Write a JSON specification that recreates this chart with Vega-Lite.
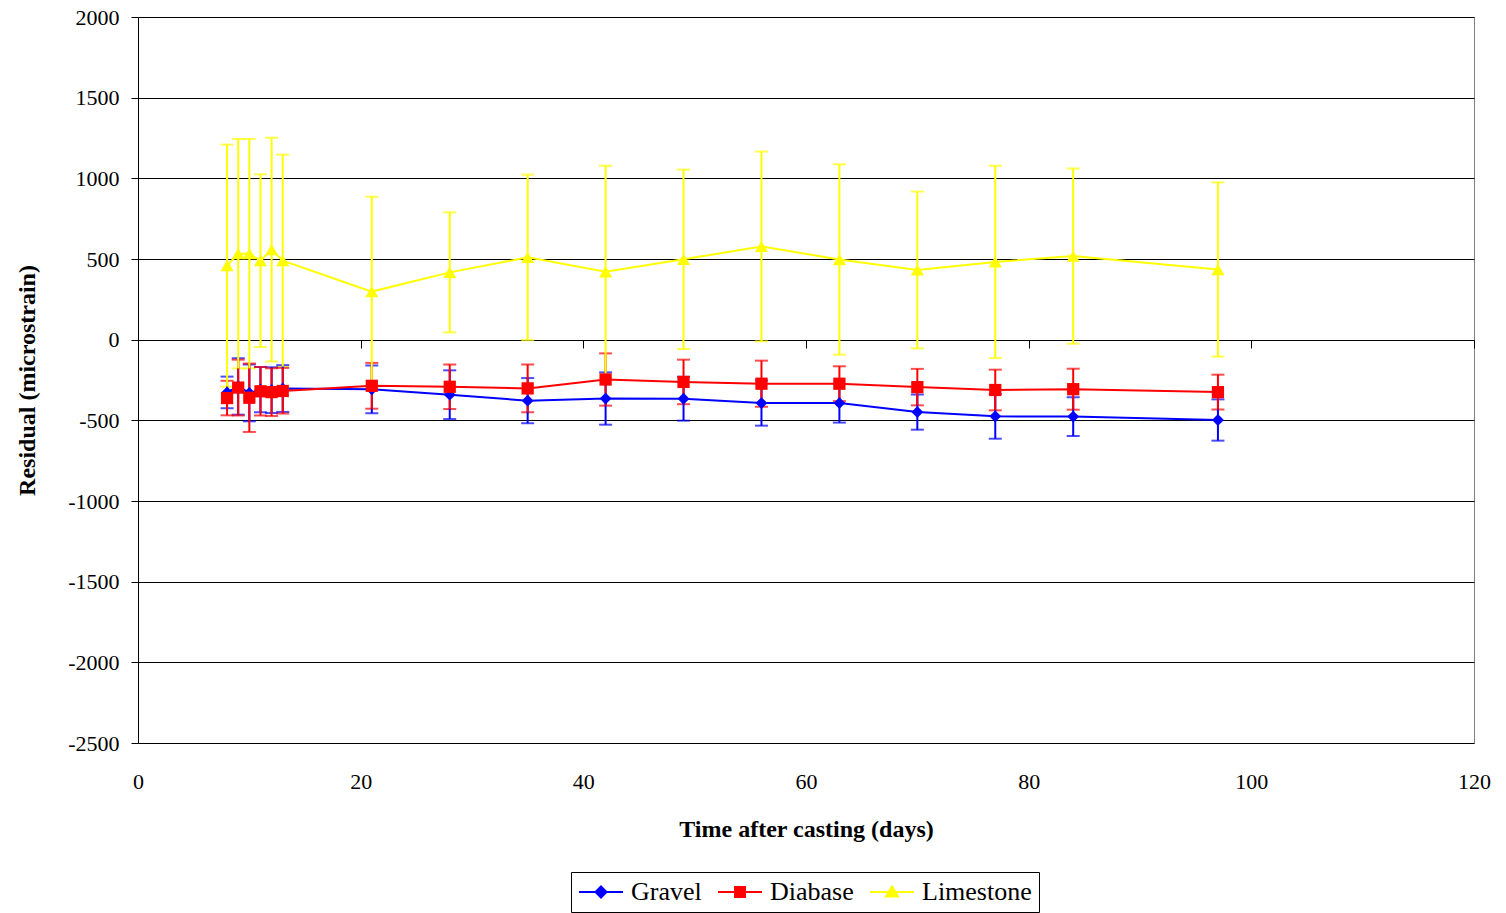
{
  "$schema": "https://vega.github.io/schema/vega-lite/v6.json",
  "width": 1336,
  "height": 726,
  "autosize": {"type": "none"},
  "padding": {"left": 138, "top": 17, "right": 32, "bottom": 170},
  "background": "white",
  "config": {
    "font": "Liberation Serif",
    "view": {"stroke": "#808080", "strokeWidth": 1},
    "axisY": {
      "grid": true, "gridColor": "black", "gridOpacity": 1, "gridWidth": 1,
      "domain": true, "domainColor": "black", "domainWidth": 1,
      "ticks": true, "tickColor": "black", "tickSize": 7,
      "labelFont": "Liberation Serif", "labelFontSize": 22, "labelColor": "black", "labelPadding": 12,
      "titleFont": "Liberation Serif", "titleFontSize": 24, "titleFontWeight": "bold", "titleColor": "black", "titlePadding": 28
    },
    "legend": {
      "orient": "none", "legendX": 433, "legendY": 855, "direction": "horizontal", "title": null,
      "symbolSize": 400, "symbolOffset": 10, "labelOffset": 17, "columnPadding": 12, "padding": 7,
      "labelFont": "Liberation Serif", "labelFontSize": 26, "labelColor": "black",
      "strokeColor": "black", "fillColor": "white", "symbolLimit": 0,
      "symbolOpacity": 1, "symbolStrokeWidth": 2
    }
  },
  "data": {
    "values": [
      {"series": "Gravel", "day": 8, "value": -327, "lo": -425, "hi": -229},
      {"series": "Gravel", "day": 9, "value": -290, "lo": -465, "hi": -115},
      {"series": "Gravel", "day": 10, "value": -330, "lo": -506, "hi": -154},
      {"series": "Gravel", "day": 11, "value": -310, "lo": -450, "hi": -170},
      {"series": "Gravel", "day": 12, "value": -313, "lo": -455, "hi": -171},
      {"series": "Gravel", "day": 13, "value": -303, "lo": -448, "hi": -158},
      {"series": "Gravel", "day": 21, "value": -308, "lo": -456, "hi": -160},
      {"series": "Gravel", "day": 28, "value": -341, "lo": -492, "hi": -190},
      {"series": "Gravel", "day": 35, "value": -378, "lo": -518, "hi": -238},
      {"series": "Gravel", "day": 42, "value": -365, "lo": -527, "hi": -203},
      {"series": "Gravel", "day": 49, "value": -366, "lo": -502, "hi": -230},
      {"series": "Gravel", "day": 56, "value": -393, "lo": -533, "hi": -253},
      {"series": "Gravel", "day": 63, "value": -393, "lo": -514, "hi": -272},
      {"series": "Gravel", "day": 70, "value": -449, "lo": -558, "hi": -340},
      {"series": "Gravel", "day": 77, "value": -475, "lo": -614, "hi": -336},
      {"series": "Gravel", "day": 84, "value": -477, "lo": -597, "hi": -357},
      {"series": "Gravel", "day": 97, "value": -498, "lo": -626, "hi": -370},
      {"series": "Diabase", "day": 8, "value": -362, "lo": -469, "hi": -255},
      {"series": "Diabase", "day": 9, "value": -297, "lo": -470, "hi": -124},
      {"series": "Diabase", "day": 10, "value": -360, "lo": -572, "hi": -148},
      {"series": "Diabase", "day": 11, "value": -320, "lo": -470, "hi": -170},
      {"series": "Diabase", "day": 12, "value": -325, "lo": -473, "hi": -177},
      {"series": "Diabase", "day": 13, "value": -318, "lo": -458, "hi": -175},
      {"series": "Diabase", "day": 21, "value": -286, "lo": -428, "hi": -144},
      {"series": "Diabase", "day": 28, "value": -292, "lo": -430, "hi": -154},
      {"series": "Diabase", "day": 35, "value": -302, "lo": -450, "hi": -154},
      {"series": "Diabase", "day": 42, "value": -247, "lo": -409, "hi": -85},
      {"series": "Diabase", "day": 49, "value": -262, "lo": -400, "hi": -124},
      {"series": "Diabase", "day": 56, "value": -273, "lo": -416, "hi": -130},
      {"series": "Diabase", "day": 63, "value": -273, "lo": -381, "hi": -165},
      {"series": "Diabase", "day": 70, "value": -294, "lo": -407, "hi": -181},
      {"series": "Diabase", "day": 77, "value": -312, "lo": -438, "hi": -186},
      {"series": "Diabase", "day": 84, "value": -307, "lo": -434, "hi": -180},
      {"series": "Diabase", "day": 97, "value": -325, "lo": -433, "hi": -217},
      {"series": "Limestone", "day": 8, "value": 459, "lo": -291, "hi": 1209},
      {"series": "Limestone", "day": 9, "value": 533, "lo": -178, "hi": 1244},
      {"series": "Limestone", "day": 10, "value": 533, "lo": -178, "hi": 1244},
      {"series": "Limestone", "day": 11, "value": 490, "lo": -45, "hi": 1025},
      {"series": "Limestone", "day": 12, "value": 558, "lo": -136, "hi": 1252},
      {"series": "Limestone", "day": 13, "value": 490, "lo": -167, "hi": 1147},
      {"series": "Limestone", "day": 21, "value": 298, "lo": -290, "hi": 886},
      {"series": "Limestone", "day": 28, "value": 417, "lo": 45, "hi": 789},
      {"series": "Limestone", "day": 35, "value": 510, "lo": -3, "hi": 1023},
      {"series": "Limestone", "day": 42, "value": 421, "lo": -236, "hi": 1078},
      {"series": "Limestone", "day": 49, "value": 498, "lo": -58, "hi": 1054},
      {"series": "Limestone", "day": 56, "value": 578, "lo": -10, "hi": 1166},
      {"series": "Limestone", "day": 63, "value": 497, "lo": -93, "hi": 1087},
      {"series": "Limestone", "day": 70, "value": 432, "lo": -54, "hi": 918},
      {"series": "Limestone", "day": 77, "value": 482, "lo": -114, "hi": 1078},
      {"series": "Limestone", "day": 84, "value": 518, "lo": -25, "hi": 1061},
      {"series": "Limestone", "day": 97, "value": 435, "lo": -105, "hi": 975}
    ]
  },
  "layer": [
    {
      "mark": {"type": "errorbar", "ticks": true, "size": 13, "thickness": 2},
      "encoding": {
        "x": {"field": "day", "type": "quantitative",
          "scale": {"domain": [0, 120], "nice": false, "zero": false},
          "axis": {"orient": "bottom", "values": [0, 20, 40, 60, 80, 100, 120], "grid": false, "domain": false, "ticks": false,
            "labelFont": "Liberation Serif", "labelFontSize": 22, "labelColor": "black", "labelPadding": 28, "labelFlush": false, "labelOverlap": false, "labelBound": false,
            "title": "Time after casting (days)", "titleFont": "Liberation Serif", "titleFontSize": 24, "titleFontWeight": "bold", "titleColor": "black", "titlePadding": 25}},
        "y": {"field": "lo", "type": "quantitative", "title": "Residual (microstrain)",
          "scale": {"domain": [-2500, 2000], "nice": false, "zero": false},
          "axis": {"values": [-2500, -2000, -1500, -1000, -500, 0, 500, 1000, 1500, 2000], "labelExpr": "'' + datum.value"}},
        "y2": {"field": "hi"},
        "color": {"field": "series", "type": "nominal",
          "scale": {"domain": ["Gravel", "Diabase", "Limestone"], "range": ["#0000FF", "#FF0000", "#FFFF00"]},
          "legend": {"orient": "none", "legendX": 433, "legendY": 855, "direction": "horizontal", "title": null,
            "labelFont": "Liberation Serif", "labelFontSize": 26, "labelColor": "black",
            "encode": {
              "labels": {"update": {"font": {"value": "Liberation Serif"}, "fontSize": {"value": 26}, "fill": {"value": "black"}}},
              "symbols": {"update": {
              "shape": {"signal": "datum.value === 'Gravel' ? 'M-2.2,0L2.2,0M0,-0.55L0.55,0L0,0.55L-0.55,0Z' : datum.value === 'Diabase' ? 'M-2.2,0L2.2,0M-0.5,-0.5L0.5,-0.5L0.5,0.5L-0.5,0.5Z' : 'M-2.2,0L2.2,0M0,-0.55L0.6,0.45L-0.6,0.45Z'"},
              "fill": {"scale": "color", "field": "value"},
              "stroke": {"scale": "color", "field": "value"},
              "strokeWidth": {"value": 2},
              "opacity": {"value": 1},
              "fillOpacity": {"value": 1},
              "strokeOpacity": {"value": 1}
            }}}}}
      }
    },
    {
      "mark": {"type": "line", "strokeWidth": 2},
      "encoding": {
        "x": {"field": "day", "type": "quantitative",
          "axis": {"orient": "bottom", "offset": -403, "values": [0, 20, 40, 60, 80, 100, 120], "grid": false, "labels": false, "title": null,
            "domain": true, "domainColor": "black", "domainWidth": 1, "ticks": true, "tickColor": "black", "tickSize": 8}},
        "y": {"field": "value", "type": "quantitative", "title": "Residual (microstrain)",
          "axis": {"values": [-2500, -2000, -1500, -1000, -500, 0, 500, 1000, 1500, 2000], "labelExpr": "'' + datum.value"}},
        "color": {"field": "series", "type": "nominal",
          "legend": {"orient": "none", "legendX": 433, "legendY": 855, "direction": "horizontal", "title": null,
            "labelFont": "Liberation Serif", "labelFontSize": 26, "labelColor": "black",
            "encode": {
              "labels": {"update": {"font": {"value": "Liberation Serif"}, "fontSize": {"value": 26}, "fill": {"value": "black"}}},
              "symbols": {"update": {
              "shape": {"signal": "datum.value === 'Gravel' ? 'M-2.2,0L2.2,0M0,-0.55L0.55,0L0,0.55L-0.55,0Z' : datum.value === 'Diabase' ? 'M-2.2,0L2.2,0M-0.5,-0.5L0.5,-0.5L0.5,0.5L-0.5,0.5Z' : 'M-2.2,0L2.2,0M0,-0.55L0.6,0.45L-0.6,0.45Z'"},
              "fill": {"scale": "color", "field": "value"},
              "stroke": {"scale": "color", "field": "value"},
              "strokeWidth": {"value": 2},
              "opacity": {"value": 1},
              "fillOpacity": {"value": 1},
              "strokeOpacity": {"value": 1}
            }}}}}
      }
    },
    {
      "transform": [{"filter": "datum.series === 'Gravel'"}],
      "mark": {"type": "point", "filled": true, "opacity": 1, "size": 140, "shape": "diamond", "color": "#0000FF"},
      "encoding": {
        "x": {"field": "day", "type": "quantitative", "axis": null},
        "y": {"field": "value", "type": "quantitative", "title": "Residual (microstrain)",
          "axis": {"values": [-2500, -2000, -1500, -1000, -500, 0, 500, 1000, 1500, 2000], "labelExpr": "'' + datum.value"}}
      }
    },
    {
      "transform": [{"filter": "datum.series === 'Diabase'"}],
      "mark": {"type": "point", "filled": true, "opacity": 1, "size": 150, "shape": "square", "color": "#FF0000"},
      "encoding": {
        "x": {"field": "day", "type": "quantitative", "axis": null},
        "y": {"field": "value", "type": "quantitative", "title": "Residual (microstrain)",
          "axis": {"values": [-2500, -2000, -1500, -1000, -500, 0, 500, 1000, 1500, 2000], "labelExpr": "'' + datum.value"}}
      }
    },
    {
      "transform": [{"filter": "datum.series === 'Limestone'"}],
      "mark": {"type": "point", "filled": true, "opacity": 1, "size": 170, "shape": "triangle-up", "color": "#FFFF00"},
      "encoding": {
        "x": {"field": "day", "type": "quantitative", "axis": null},
        "y": {"field": "value", "type": "quantitative", "title": "Residual (microstrain)",
          "axis": {"values": [-2500, -2000, -1500, -1000, -500, 0, 500, 1000, 1500, 2000], "labelExpr": "'' + datum.value"}}
      }
    }
  ],
  "resolve": {"axis": {"x": "independent"}}
}
